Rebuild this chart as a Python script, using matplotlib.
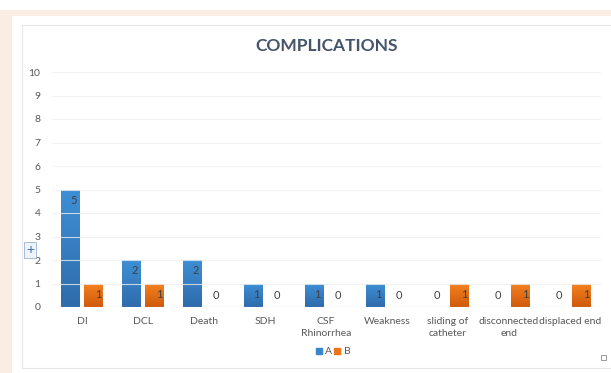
import matplotlib.pyplot as plt
import numpy as np
from matplotlib.patches import Rectangle
from matplotlib.colors import LinearSegmentedColormap

plt.rcParams['font.family'] = ['Lato', 'DejaVu Sans']

# data
categories = ['DI', 'DCL', 'Death', 'SDH', 'CSF\nRhinorrhea', 'Weakness',
              'sliding of\ncatheter', 'disconnected\nend', 'displaced end']
series_a = [5, 2, 2, 1, 1, 1, 0, 0, 0]
series_b = [1, 1, 0, 0, 0, 0, 1, 1, 1]
y_ticks = [0, 1, 2, 3, 4, 5, 6, 7, 8, 9, 10]

blue_cmap = LinearSegmentedColormap.from_list('b', ['#2f6cab', '#3e8fd6'])
orange_cmap = LinearSegmentedColormap.from_list('o', ['#cf5a0c', '#f58220'])

fig = plt.figure(figsize=(6.11, 3.73), dpi=100)
W, H = 611, 373

# page background pieces (pixel coords -> figure fraction)
def rect(x0, y0, x1, y1, z=-10, **kw):
    fig.patches.append(Rectangle((x0 / W, 1 - y1 / H), (x1 - x0) / W, (y1 - y0) / H,
                                 transform=fig.transFigure, zorder=z, **kw))

rect(0, 10, W, H, facecolor='#fbede3', edgecolor='none', z=-12)
rect(12, 16, W, H, facecolor='white', edgecolor='none', z=-11)
rect(22, 25, W + 5, 368, facecolor='white', edgecolor='#e6e6e6', lw=0.8, z=-10)

ax = fig.add_axes([51.5 / W, 66 / H, 549 / W, 235 / H])
ax.set_facecolor('none')

x = np.arange(len(categories))
w = 0.31
off = 0.19

def gradient_bars(xs, vals, cmap):
    bars = ax.bar(xs, vals, w, color='none', edgecolor='none', zorder=2)
    grad = np.linspace(0, 1, 100).reshape(-1, 1)
    for b in bars:
        if b.get_height() == 0:
            continue
        im = ax.imshow(grad, cmap=cmap, origin='lower', aspect='auto',
                       extent=(b.get_x(), b.get_x() + b.get_width(), 0, b.get_height()),
                       zorder=2)
        im.set_clip_path(b)
    return bars

gradient_bars(x - off, series_a, blue_cmap)
gradient_bars(x + off, series_b, orange_cmap)

for xi, v in zip(x - off, series_a):
    ypos = v - 0.45 if v > 0 else 0.5
    ax.text(xi + (0.05 if v > 0 else 0), ypos, str(v), ha='center', va='center',
            fontsize=8, color='#404040', zorder=4)
for xi, v in zip(x + off, series_b):
    ypos = v - 0.45 if v > 0 else 0.5
    ax.text(xi + (0.08 if v > 0 else 0), ypos, str(v), ha='center', va='center',
            fontsize=8, color='#404040', zorder=4)

ax.set_xlim(-0.5, len(categories) - 0.5)
ax.set_ylim(0, 10)
ax.set_yticks(y_ticks)
ax.set_yticklabels([str(t) for t in y_ticks], fontsize=7.5, color='#595959')
ax.set_xticks(x)
ax.set_xticklabels(categories, fontsize=7.5, color='#595959', linespacing=1.4)
ax.tick_params(axis='both', length=0)
ax.tick_params(axis='y', pad=8)
ax.tick_params(axis='x', pad=7)
for s in ax.spines.values():
    s.set_visible(False)
ax.axhline(0, color='#d9d9d9', lw=0.8, zorder=1)
ax.grid(axis='y', color='#eeeeee', lw=0.8, zorder=3, alpha=0.8)
ax.set_axisbelow(False)

fig.text(327 / W, 1 - 46 / H, 'COMPLICATIONS', ha='center', va='center',
         fontsize=12.5, fontweight='bold', color='#44546a')

# legend
handles = [Rectangle((0, 0), 1, 1, color='#3a86cc'), Rectangle((0, 0), 1, 1, color='#ee7418')]
fig.legend(handles, ['A', 'B'], loc='center', bbox_to_anchor=(333 / W, 1 - 352 / H),
           ncol=2, frameon=False, fontsize=7.5, handlelength=0.6, handleheight=0.6,
           handletextpad=0.3, columnspacing=0.2, labelcolor='#595959')

# small chart-widget marks
fig.text(30 / W, 1 - 250 / H, '+', ha='center', va='center', fontsize=10, color='#3a6fb0',
         zorder=6, bbox=dict(boxstyle='square,pad=0.15', fc='#eef3fa', ec='#9bb3d6', lw=0.6))
rect(601, 355, 606, 360, z=5, facecolor='white', edgecolor='#888888', lw=0.6)

fig.savefig('out.png', dpi=100)
